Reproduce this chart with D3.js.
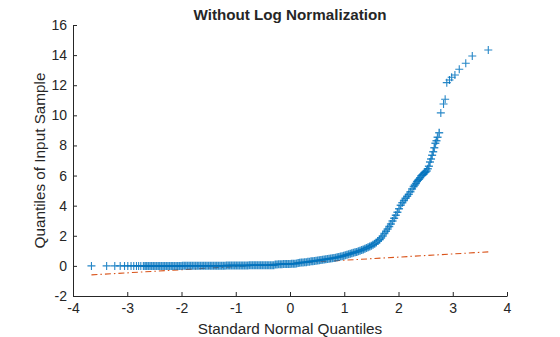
<!DOCTYPE html>
<html>
<head>
<meta charset="utf-8">
<script src="https://cdn.jsdelivr.net/npm/d3@7"></script>
<style>
  html, body { margin: 0; padding: 0; background: #fff; }
  svg { display: block; font-family: "Liberation Sans", Arial, Helvetica, sans-serif; }
</style>
</head>
<body>
<svg id="chart" width="560" height="337"></svg>
<script>
// ---- data ----
const titleText = "Without Log Normalization";
const xLabelText = "Standard Normal Quantiles";
const yLabelText = "Quantiles of Input Sample";
const xTicks = [-4, -3, -2, -1, 0, 1, 2, 3, 4];
const xTickLabels = ["-4", "-3", "-2", "-1", "0", "1", "2", "3", "4"];
const yTicks = [-2, 0, 2, 4, 6, 8, 10, 12, 14, 16];
const yTickLabels = ["-2", "0", "2", "4", "6", "8", "10", "12", "14", "16"];

// left tail (separate crosses)
const tailLowX = [-3.66, -3.38, -3.23, -3.13, -3.05, -2.99, -2.93, -2.88, -2.83, -2.79, -2.75];
const tailLowY = [0, 0, 0, 0, 0, 0, 0, 0, 0, 0, 0];

// dense body (standard normal quantile, sample quantile)
const bodyX = [
  -2.70,-2.67,-2.64,-2.61,-2.58,-2.55,-2.52,-2.49,-2.46,-2.43,-2.40,-2.37,-2.34,-2.31,-2.28,-2.25,-2.22,-2.19,-2.16,-2.13,-2.10,-2.07,-2.04,-2.01,
  -1.98,-1.95,-1.92,-1.89,-1.86,-1.83,-1.80,-1.77,-1.74,-1.71,-1.68,-1.65,-1.62,-1.59,-1.56,-1.53,-1.50,-1.47,-1.44,-1.41,-1.38,-1.35,-1.32,-1.29,-1.26,-1.23,-1.20,
  -1.17,-1.14,-1.11,-1.08,-1.05,-1.02,-0.99,-0.96,-0.93,-0.90,-0.87,-0.84,-0.81,-0.78,
  -0.75,-0.72,-0.69,-0.66,-0.63,-0.60,-0.57,-0.54,-0.51,-0.48,-0.45,-0.42,-0.39,-0.36,-0.33,-0.30,
  -0.27,-0.24,-0.21,-0.18,-0.15,-0.12,-0.09,-0.06,-0.03,0.00,0.03,0.06,0.09,0.12,
  0.15,0.18,0.21,0.24,0.27,0.30,0.33,0.36,0.39,0.42,0.45,0.48,0.51,0.54,0.57,0.60,0.63,0.66,0.69,0.72,0.75,0.78,
  0.81,0.84,0.87,0.90,0.93,0.96,0.99,1.02,1.05,1.08,1.11,1.14,1.17,1.20,1.23,1.26,1.29,1.32,1.35,1.38,1.41,1.44,
  1.47,1.50,1.53,1.56,1.59,1.62,1.65,1.68,1.71,1.74,1.77,1.80,1.83,1.86,1.89,1.92,1.95,1.98,2.01,2.04,2.07,2.10,
  2.13,2.16,2.19,2.22,2.25,2.28,2.30,2.32,2.34,2.36,2.38,2.40,2.42,2.44,2.46,2.48,2.50,2.52,2.54,2.56,2.58,2.60,
  2.62,2.64,2.66,2.68,2.70,2.72,2.75
];
const bodyY = [
  0.00,0.00,0.00,0.00,0.00,0.00,0.00,0.00,0.00,0.00,0.00,0.00,0.00,0.00,0.00,0.00,0.00,0.00,0.00,0.00,0.00,0.00,0.00,0.00,
  0.01,0.01,0.01,0.01,0.01,0.01,0.01,0.01,0.01,0.01,0.01,0.01,0.01,0.01,0.01,0.01,0.01,0.01,0.01,0.01,0.01,0.01,0.01,0.01,0.01,0.01,0.01,
  0.02,0.02,0.02,0.02,0.02,0.02,0.02,0.02,0.02,0.02,0.02,0.02,0.02,0.02,
  0.05,0.05,0.05,0.05,0.05,0.05,0.05,0.05,0.05,0.05,0.05,0.05,0.05,0.05,0.05,0.05,
  0.10,0.10,0.11,0.11,0.11,0.12,0.12,0.12,0.13,0.13,0.14,0.14,0.15,0.16,
  0.19,0.21,0.22,0.23,0.24,0.25,0.27,0.28,0.30,0.31,0.33,0.34,0.36,0.37,0.39,0.40,0.42,0.44,0.45,0.47,0.49,0.50,
  0.52,0.54,0.57,0.59,0.62,0.64,0.67,0.70,0.74,0.77,0.80,0.84,0.87,0.90,0.93,0.97,1.01,1.05,1.09,1.14,1.19,1.24,
  1.29,1.34,1.40,1.47,1.56,1.65,1.74,1.85,1.99,2.15,2.30,2.45,2.62,2.79,2.98,3.17,3.36,3.57,3.80,4.02,4.20,4.35,
  4.50,4.62,4.76,4.92,5.10,5.28,5.38,5.48,5.60,5.68,5.76,5.86,5.98,6.06,6.12,6.18,6.24,6.30,6.45,6.62,6.90,7.10,
  7.35,7.58,7.85,8.15,8.32,8.55,8.85
];

// right tail (separate crosses)
const tailHighX = [2.78, 2.83, 2.86, 2.89, 2.94, 2.98, 3.04, 3.12, 3.24, 3.36, 3.655];
const tailHighY = [10.16, 10.75, 11.07, 12.17, 12.35, 12.53, 12.68, 13.06, 13.46, 13.94, 14.34];

// reference line end values (sample quantile at the smallest / largest normal quantile)
const refLineY = [-0.60, 0.93];

// ---- drawing ----
const svg = d3.select("#chart");
const x = d3.scaleLinear().domain([-4, 4]).range([73, 507]);
const y = d3.scaleLinear().domain([-2, 16]).range([296, 25]);
const ink = "#262626";
const fontFam = '"Liberation Sans", Arial, sans-serif';

const bodyPts = bodyX.map((v, i) => [v, bodyY[i]]);
const tailPts = tailLowX.map((v, i) => [v, tailLowY[i]])
  .concat(tailHighX.map((v, i) => [v, tailHighY[i]]));
const allPts = tailPts.concat(bodyPts);
const xExt = d3.extent(allPts, d => d[0]);

// reference line (dash-dot)
svg.append("path")
  .datum([[xExt[0], refLineY[0]], [xExt[1], refLineY[1]]])
  .attr("d", d3.line().x(d => x(d[0])).y(d => y(d[1])))
  .attr("fill", "none")
  .attr("stroke", "#D95319")
  .attr("stroke-width", 1.1)
  .attr("stroke-dasharray", "6,3,1.5,3");

const cross = "M-4,0H4M0,-4V4";
// separate tail crosses
svg.append("g")
  .selectAll("path")
  .data(tailPts)
  .join("path")
  .attr("transform", d => `translate(${x(d[0])},${y(d[1])})`)
  .attr("d", cross)
  .attr("fill", "none")
  .attr("stroke", "#0072BD")
  .attr("stroke-opacity", 0.85)
  .attr("stroke-width", 1.1);

// dense body crosses (heavily overlapping)
svg.append("g")
  .selectAll("path")
  .data(bodyPts)
  .join("path")
  .attr("transform", d => `translate(${x(d[0])},${y(d[1])})`)
  .attr("d", cross)
  .attr("fill", "none")
  .attr("stroke", "#0072BD")
  .attr("stroke-opacity", 0.8)
  .attr("stroke-width", 1.5);

// axes
const xAxis = d3.axisBottom(x).tickValues(xTicks)
  .tickFormat((d, i) => xTickLabels[i]).tickSizeInner(-4).tickSizeOuter(0).tickPadding(7);
const yAxis = d3.axisLeft(y).tickValues(yTicks)
  .tickFormat((d, i) => yTickLabels[i]).tickSizeInner(-4).tickSizeOuter(0).tickPadding(6);

const gx = svg.append("g").attr("transform", `translate(0,${y(-2)})`).call(xAxis);
const gy = svg.append("g").attr("transform", `translate(${x(-4)},0)`).call(yAxis);
[gx, gy].forEach(g => {
  g.attr("font-size", null).attr("font-family", null);
  g.select(".domain").attr("stroke", ink).attr("stroke-width", 1);
  g.selectAll(".tick line").attr("stroke", ink).attr("stroke-width", 1);
  g.selectAll(".tick text").attr("fill", ink).style("font-size", "14px")
    .style("font-family", fontFam);
});

// title and labels
svg.append("text")
  .attr("x", (x(-4) + x(4)) / 2).attr("y", 19.5)
  .attr("text-anchor", "middle")
  .style("font-size", "15.2px").style("font-weight", "bold").style("font-family", fontFam)
  .attr("fill", ink).text(titleText);

svg.append("text")
  .attr("x", (x(-4) + x(4)) / 2).attr("y", 333.5)
  .attr("text-anchor", "middle")
  .style("font-size", "15.3px").style("font-family", fontFam)
  .attr("fill", ink).text(xLabelText);

svg.append("text")
  .attr("transform", `translate(45,${(y(-2) + y(16)) / 2}) rotate(-90)`)
  .attr("text-anchor", "middle")
  .style("font-size", "15.3px").style("font-family", fontFam)
  .attr("fill", ink).text(yLabelText);
</script>
</body>
</html>
